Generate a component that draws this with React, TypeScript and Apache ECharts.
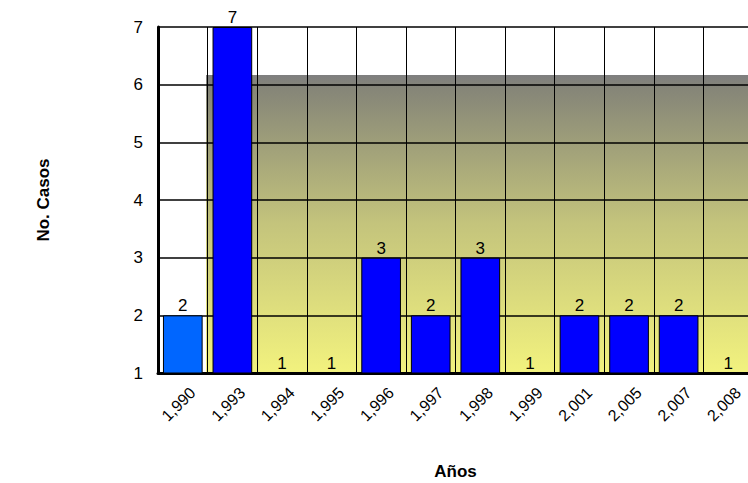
import React, { useEffect, useRef } from "react";
import * as echarts from "echarts";

const categories = ["1,990", "1,993", "1,994", "1,995", "1,996", "1,997", "1,998", "1,999", "2,001", "2,005", "2,007", "2,008"];
const casos = [2, 7, 1, 1, 3, 2, 3, 1, 2, 2, 2, 1];
const yTicks = [1, 2, 3, 4, 5, 6, 7];

export default function App() {
  const ref = useRef<HTMLDivElement>(null);
  useEffect(() => {
    if (!ref.current) return;
    const chart = echarts.init(ref.current, undefined, { renderer: "svg" });
    const font = "Liberation Sans, Arial, sans-serif";
    chart.setOption({
      animation: false,
      textStyle: { fontFamily: font },
      grid: { left: 158, top: 27, width: 595, height: 346, containLabel: false, outerBoundsMode: "none" },
      graphic: [
        {
          type: "rect",
          z: -10,
          silent: true,
          shape: { x: 206, y: 75, width: 560, height: 298 },
          style: {
            fill: new echarts.graphic.LinearGradient(0, 0, 0, 1, [
              { offset: 0, color: "#7f7f7f" },
              { offset: 0.05, color: "#868678" },
              { offset: 0.5, color: "#c4c47c" },
              { offset: 1, color: "#f2f27e" },
            ]),
          },
        },
      ],
      xAxis: {
        type: "category",
        data: categories,
        boundaryGap: true,
        name: "Años",
        nameLocation: "middle",
        nameGap: 90,
        nameTextStyle: { fontWeight: "bold", fontSize: 17, color: "#000", fontFamily: font },
        axisLine: { lineStyle: { color: "#000", width: 3 } },
        axisTick: { show: false },
        axisLabel: {
          rotate: 45,
          color: "#000",
          fontSize: 16,
          fontFamily: font,
          margin: 27,
          interval: 0,
          padding: [0, -14, 0, 0],
        },
        splitLine: { show: true, interval: 0, lineStyle: { color: "#000", width: 1 } },
      },
      yAxis: {
        type: "value",
        min: 1,
        max: 7,
        interval: 1,
        name: "No. Casos",
        nameLocation: "middle",
        nameGap: 106,
        nameTextStyle: { fontWeight: "bold", fontSize: 17, color: "#000", fontFamily: font },
        axisLine: { show: true, lineStyle: { color: "#000", width: 3 } },
        axisTick: { show: false },
        axisLabel: {
          color: "#000",
          fontSize: 17,
          fontFamily: font,
          margin: 15,
          formatter: (v: number) => (yTicks.includes(v) ? String(v) : ""),
        },
        splitLine: { show: true, lineStyle: { color: "#000", width: 1.5 } },
      },
      series: [
        {
          type: "bar",
          data: casos.map((v, i) => ({
            value: v,
            itemStyle: { color: i === 0 ? "#0066ff" : "#0000ff" },
          })),
          barCategoryGap: "20%",
          itemStyle: { borderColor: "#000", borderWidth: 1 },
          label: { show: false },
        },
        {
          type: "scatter",
          data: casos,
          symbolSize: 0,
          clip: false,
          silent: true,
          z: 5,
          itemStyle: { opacity: 1 },
          label: { show: true, position: "top", color: "#000", opacity: 1, fontSize: 17, fontFamily: font, distance: 1 },
        },
      ],
    });
    return () => chart.dispose();
  }, []);
  return <div ref={ref} style={{ position: "absolute", left: 0, top: 0, width: 748, height: 483 }} />;
}
